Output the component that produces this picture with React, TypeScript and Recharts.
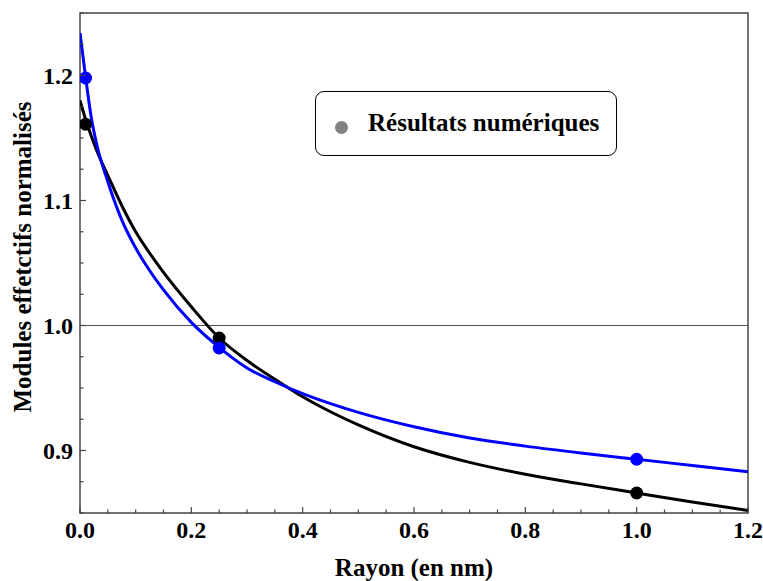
import {
  ComposedChart,
  Line,
  Scatter,
  XAxis,
  YAxis,
  ReferenceLine,
  ReferenceArea,
} from "recharts";

// courbes
const RAYON = [0, 0.01, 0.02, 0.03, 0.05, 0.075, 0.1, 0.125, 0.15, 0.2, 0.25, 0.3, 0.35, 0.4, 0.45, 0.5, 0.6, 0.7, 0.8, 0.9, 1.0, 1.1, 1.2];
const MODULE_NOIR = [1.18, 1.165, 1.152, 1.14, 1.12, 1.096, 1.075, 1.058, 1.0425, 1.015, 0.99, 0.972, 0.957, 0.943, 0.931, 0.9205, 0.903, 0.8905, 0.881, 0.8733, 0.866, 0.8588, 0.852];
const MODULE_BLEU = [1.234, 1.199, 1.167, 1.145, 1.115, 1.0845, 1.062, 1.044, 1.0285, 1.0025, 0.9825, 0.966, 0.955, 0.9455, 0.9375, 0.9305, 0.919, 0.91, 0.9035, 0.898, 0.893, 0.888, 0.883];

// résultats numériques (points)
const POINTS_R = [0.01, 0.25, 1.0];
const POINTS_NOIR = [1.161, 0.99, 0.866];
const POINTS_BLEU = [1.198, 0.982, 0.893];

const X_TICKS = [0, 0.05, 0.1, 0.15, 0.2, 0.25, 0.3, 0.35, 0.4, 0.45, 0.5, 0.55, 0.6, 0.65, 0.7, 0.75, 0.8, 0.85, 0.9, 0.95, 1.0, 1.05, 1.1, 1.15, 1.2];
const X_MAJOR = [0, 0.2, 0.4, 0.6, 0.8, 1.0, 1.2];
const Y_TICKS = [0.85, 0.875, 0.9, 0.925, 0.95, 0.975, 1.0, 1.025, 1.05, 1.075, 1.1, 1.125, 1.15, 1.175, 1.2, 1.225, 1.25];
const Y_MAJOR = [0.9, 1.0, 1.1, 1.2];

const FONT = '"Liberation Serif", Tinos, "Times New Roman", serif';
const AXIS = "#444";

const curveNoir = RAYON.map((r, i) => ({ r, v: MODULE_NOIR[i] }));
const curveBleu = RAYON.map((r, i) => ({ r, v: MODULE_BLEU[i] }));
const ptsNoir = POINTS_R.map((r, i) => ({ r, v: POINTS_NOIR[i] }));
const ptsBleu = POINTS_R.map((r, i) => ({ r, v: POINTS_BLEU[i] }));

const isMajor = (list: number[], v: number) => list.some((m) => Math.abs(m - v) < 1e-6);

function BottomTick({ x, y, payload }: any) {
  const major = isMajor(X_MAJOR, payload.value);
  return (
    <g>
      <line x1={x} y1={y} x2={x} y2={y - (major ? 6 : 3.5)} stroke={AXIS} strokeWidth={1.2} />
      {major && (
        <text x={x} y={y + 25} textAnchor="middle" fontFamily={FONT} fontWeight="bold" fontSize={24} fill="#000">
          {payload.value.toFixed(1)}
        </text>
      )}
    </g>
  );
}

function TopTick({ x, y, payload }: any) {
  const major = isMajor(X_MAJOR, payload.value);
  return <line x1={x} y1={y} x2={x} y2={y + (major ? 6 : 3.5)} stroke={AXIS} strokeWidth={1.2} />;
}

function LeftTick({ x, y, payload }: any) {
  const major = isMajor(Y_MAJOR, payload.value);
  return (
    <g>
      <line x1={x} y1={y} x2={x + (major ? 6 : 3.5)} y2={y} stroke={AXIS} strokeWidth={1.2} />
      {major && (
        <text x={x - 7} y={y + 8} textAnchor="end" fontFamily={FONT} fontWeight="bold" fontSize={24} fill="#000">
          {payload.value.toFixed(1)}
        </text>
      )}
    </g>
  );
}

function RightTick({ x, y, payload }: any) {
  const major = isMajor(Y_MAJOR, payload.value);
  return <line x1={x} y1={y} x2={x - (major ? 6 : 3.5)} y2={y} stroke={AXIS} strokeWidth={1.2} />;
}

function XTitle({ viewBox }: any) {
  return (
    <text x={viewBox.x + viewBox.width / 2} y={viewBox.y + 63} textAnchor="middle" fontFamily={FONT} fontWeight="bold" fontSize={25} fill="#000">
      Rayon (en nm)
    </text>
  );
}

function YTitle({ viewBox }: any) {
  const cx = viewBox.x + 22;
  const cy = viewBox.y + viewBox.height / 2 - 6;
  return (
    <text
      x={cx}
      y={cy}
      transform={`rotate(-90, ${cx}, ${cy})`}
      textAnchor="middle"
      dominantBaseline="central"
      fontFamily={FONT}
      fontWeight="bold"
      fontSize={25}
      fill="#000"
    >
      Modules effetctifs normalisés
    </text>
  );
}

export default function App() {
  return (
    <div style={{ position: "absolute", left: 0, top: 0, width: 763, height: 581, background: "#fff" }}>
      <ComposedChart width={763} height={581} margin={{ top: 13, right: 15, bottom: 0, left: 0 }}>
        <XAxis
          xAxisId="bas"
          dataKey="r"
          type="number"
          domain={[0, 1.2]}
          ticks={X_TICKS}
          interval={0}
          allowDataOverflow
          height={68}
          axisLine={false}
          tickLine={false}
          tickSize={0}
          tickMargin={0}
          tick={<BottomTick />}
          label={<XTitle />}
        />
        <XAxis
          xAxisId="haut"
          orientation="top"
          dataKey="r"
          type="number"
          domain={[0, 1.2]}
          ticks={X_TICKS}
          interval={0}
          allowDataOverflow
          height={0}
          axisLine={false}
          tickLine={false}
          tickSize={0}
          tickMargin={0}
          tick={<TopTick />}
        />
        <YAxis
          yAxisId="gauche"
          type="number"
          domain={[0.85, 1.25]}
          ticks={Y_TICKS}
          interval={0}
          allowDataOverflow
          width={80}
          axisLine={false}
          tickLine={false}
          tickSize={0}
          tickMargin={0}
          tick={<LeftTick />}
          label={<YTitle />}
        />
        <YAxis
          yAxisId="droite"
          orientation="right"
          type="number"
          domain={[0.85, 1.25]}
          ticks={Y_TICKS}
          interval={0}
          allowDataOverflow
          width={0}
          axisLine={false}
          tickLine={false}
          tickSize={0}
          tickMargin={0}
          tick={<RightTick />}
        />
        <ReferenceLine xAxisId="bas" yAxisId="gauche" y={1} stroke="#555" strokeWidth={1.2} />
        <Line
          xAxisId="bas"
          yAxisId="gauche"
          data={curveNoir}
          dataKey="v"
          type="monotone"
          stroke="#000"
          strokeWidth={3}
          dot={false}
          isAnimationActive={false}
        />
        <Line
          xAxisId="bas"
          yAxisId="gauche"
          data={curveBleu}
          dataKey="v"
          type="monotone"
          stroke="#0000ff"
          strokeWidth={3}
          dot={false}
          isAnimationActive={false}
        />
        <Scatter xAxisId="bas" yAxisId="gauche" data={ptsNoir} dataKey="v" fill="#000" shape={(p: any) => <circle cx={p.cx} cy={p.cy} r={6.5} fill="#000" />} isAnimationActive={false} />
        <Scatter xAxisId="bas" yAxisId="gauche" data={ptsBleu} dataKey="v" fill="#0000ff" shape={(p: any) => <circle cx={p.cx} cy={p.cy} r={6.5} fill="#0000ff" />} isAnimationActive={false} />
        <ReferenceArea
          xAxisId="bas"
          yAxisId="gauche"
          x1={0}
          x2={1.2}
          y1={0.85}
          y2={1.25}
          fill="none"
          fillOpacity={0}
          stroke={AXIS}
          strokeWidth={1.5}
          ifOverflow="visible"
        />
      </ComposedChart>
      <div
        style={{
          position: "absolute",
          left: 315,
          top: 91,
          width: 300,
          height: 63,
          border: "1.5px solid #000",
          borderRadius: 9,
          background: "#fff",
        }}
      >
        <span
          style={{
            position: "absolute",
            left: 19,
            top: 29,
            width: 13,
            height: 13,
            borderRadius: "50%",
            background: "#808080",
          }}
        />
        <span
          style={{
            position: "absolute",
            left: 52,
            top: 16,
            fontFamily: FONT,
            fontWeight: "bold",
            fontSize: 25,
            lineHeight: "30px",
            whiteSpace: "nowrap",
            color: "#000",
          }}
        >
          Résultats numériques
        </span>
      </div>
    </div>
  );
}
